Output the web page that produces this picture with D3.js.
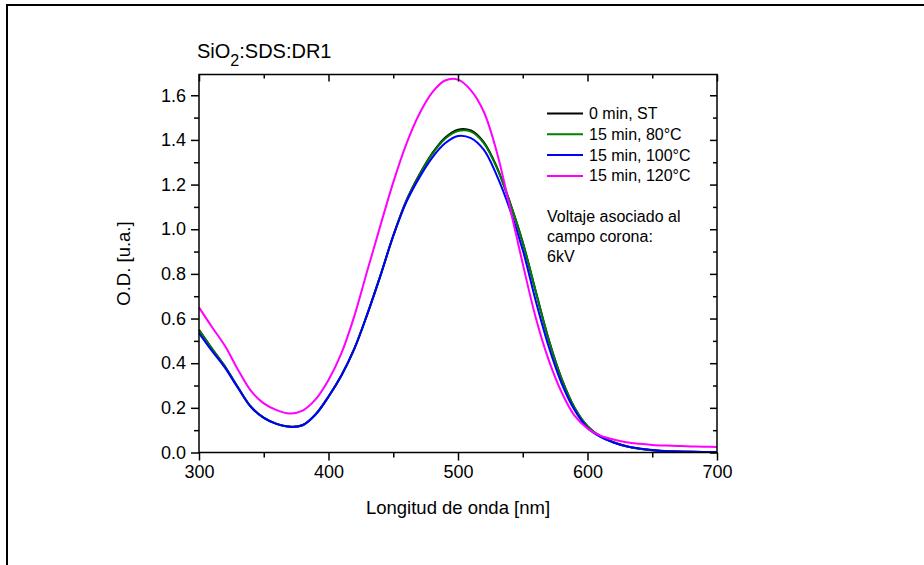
<!DOCTYPE html>
<html><head><meta charset="utf-8">
<script src="https://cdn.jsdelivr.net/npm/d3@7"></script>
<style>
body{margin:0;background:#fff}
text{font-family:"Liberation Sans",Arial,sans-serif;fill:#000}
</style>
</head><body>
<svg id="c" width="924" height="565"></svg>
<script>
// ---- data ----
const wavelength = [300,310,320,330,340,350,360,370,380,390,400,410,420,430,440,450,460,470,480,490,500,510,520,530,540,550,560,570,580,590,600,610,620,630,640,650,660,670,680,690,700];
const od_0min_ST = [0.550,0.466,0.386,0.293,0.206,0.156,0.128,0.116,0.123,0.171,0.251,0.346,0.466,0.621,0.791,0.971,1.127,1.243,1.339,1.410,1.446,1.442,1.389,1.278,1.122,0.942,0.722,0.507,0.331,0.201,0.118,0.072,0.046,0.028,0.017,0.010,0.006,0.004,0.003,0.002,0.002];
const od_15min_80C = [0.548,0.465,0.385,0.292,0.205,0.155,0.127,0.115,0.122,0.170,0.250,0.345,0.465,0.620,0.790,0.970,1.125,1.240,1.335,1.405,1.440,1.437,1.385,1.275,1.120,0.940,0.722,0.505,0.330,0.200,0.118,0.072,0.046,0.028,0.017,0.010,0.006,0.004,0.003,0.002,0.002];
const od_15min_100C = [0.535,0.455,0.380,0.290,0.205,0.155,0.128,0.115,0.122,0.170,0.250,0.345,0.465,0.620,0.790,0.970,1.120,1.230,1.320,1.385,1.418,1.408,1.355,1.240,1.090,0.907,0.680,0.475,0.310,0.190,0.110,0.070,0.045,0.028,0.018,0.011,0.007,0.005,0.003,0.002,0.002];
const od_15min_120C = [0.650,0.562,0.478,0.372,0.277,0.220,0.190,0.175,0.188,0.238,0.325,0.445,0.612,0.815,1.015,1.210,1.380,1.515,1.612,1.666,1.670,1.622,1.525,1.345,1.100,0.845,0.605,0.415,0.270,0.165,0.108,0.075,0.058,0.046,0.039,0.034,0.031,0.029,0.027,0.026,0.025];
const seriesLabels = ["0 min, ST","15 min, 80°C","15 min, 100°C","15 min, 120°C"];
const xTicks = [300,400,500,600,700];
const xMinorTicks = [350,450,550,650];
const yTicks = [0.0,0.2,0.4,0.6,0.8,1.0,1.2,1.4,1.6];
const yMinorTicks = [0.1,0.3,0.5,0.7,0.9,1.1,1.3,1.5];
const noteLines = ["Voltaje asociado al","campo corona:","6kV"];

// ---- styles ----
const colors = ["#000000","#007f00","#0000ff","#ff00ff"];
const series = [od_0min_ST, od_15min_80C, od_15min_100C, od_15min_120C];

const svg = d3.select("#c");
const L = 199, R = 717, T = 74.5, B = 452.5;
const x = d3.scaleLinear().domain([300,700]).range([L,R]);
const y = d3.scaleLinear().domain([0,1.693]).range([B,T]);

// outer frame lines
svg.append("line").attr("x1",6).attr("x2",924).attr("y1",5).attr("y2",5).attr("stroke","#000").attr("stroke-width",2);
svg.append("line").attr("x1",7).attr("x2",7).attr("y1",4).attr("y2",565).attr("stroke","#000").attr("stroke-width",2);

// curves
const line = d3.line().x((d,i)=>x(wavelength[i])).y(d=>y(d)).curve(d3.curveCatmullRom.alpha(0.5));
const plot = svg.append("g");
series.forEach((s,k)=>{
  plot.append("path").attr("d",line(s)).attr("fill","none").attr("stroke",colors[k]).attr("stroke-width",2);
});

function styleAxis(g){
  g.select(".domain").remove();
  g.selectAll("line").attr("stroke","#000").attr("stroke-width",1.5);
  g.selectAll("text").style("font-size","18px").style("font-family","'Liberation Sans',Arial,sans-serif");
}
// bottom
svg.append("g").attr("transform",`translate(0,${B})`)
  .call(d3.axisBottom(x).tickValues(xTicks).tickSize(8).tickPadding(5).tickFormat(d3.format("d")))
  .call(styleAxis);
svg.append("g").attr("transform",`translate(0,${B})`)
  .call(d3.axisBottom(x).tickValues(xMinorTicks).tickSize(5).tickFormat(""))
  .call(styleAxis);
// top (inward)
svg.append("g").attr("transform",`translate(0,${T})`)
  .call(d3.axisBottom(x).tickValues(xTicks).tickSize(7).tickFormat(""))
  .call(styleAxis);
svg.append("g").attr("transform",`translate(0,${T})`)
  .call(d3.axisBottom(x).tickValues(xMinorTicks).tickSize(4).tickFormat(""))
  .call(styleAxis);
// left
svg.append("g").attr("transform",`translate(${L},0)`)
  .call(d3.axisLeft(y).tickValues(yTicks).tickSize(8).tickPadding(5).tickFormat(d3.format(".1f")))
  .call(styleAxis);
svg.append("g").attr("transform",`translate(${L},0)`)
  .call(d3.axisLeft(y).tickValues(yMinorTicks).tickSize(5).tickFormat(""))
  .call(styleAxis);
// right (inward)
svg.append("g").attr("transform",`translate(${R},0)`)
  .call(d3.axisLeft(y).tickValues(yTicks).tickSize(7).tickFormat(""))
  .call(styleAxis);
svg.append("g").attr("transform",`translate(${R},0)`)
  .call(d3.axisLeft(y).tickValues(yMinorTicks).tickSize(4).tickFormat(""))
  .call(styleAxis);

// frame
svg.append("rect").attr("x",L).attr("y",T).attr("width",R-L).attr("height",B-T)
  .attr("fill","none").attr("stroke","#000").attr("stroke-width",1.5);

// axis titles
svg.append("text").attr("x",(L+R)/2).attr("y",514).attr("text-anchor","middle")
  .style("font-size","18.5px").text("Longitud de onda [nm]");
svg.append("text").attr("transform",`translate(130,${(T+B)/2}) rotate(-90)`).attr("text-anchor","middle")
  .style("font-size","18.5px").text("O.D. [u.a.]");

// title
const title = svg.append("text").attr("x",197).attr("y",58).style("font-size","20px");
title.append("tspan").text("SiO");
title.append("tspan").attr("dy",8).style("font-size","16px").text("2");
title.append("tspan").attr("dy",-8).text(":SDS:DR1");

// legend
const lg = svg.append("g");
seriesLabels.forEach((lab,i)=>{
  const yy = 113.5 + i*20.8;
  lg.append("line").attr("x1",547).attr("x2",583).attr("y1",yy).attr("y2",yy).attr("stroke",colors[i]).attr("stroke-width",2);
  lg.append("text").attr("x",589).attr("y",yy+5.5).style("font-size","16px").text(lab);
});
noteLines.forEach((t,i)=>{
  lg.append("text").attr("x",547).attr("y",221.5+i*20).style("font-size","16px").text(t);
});
</script>
</body></html>
